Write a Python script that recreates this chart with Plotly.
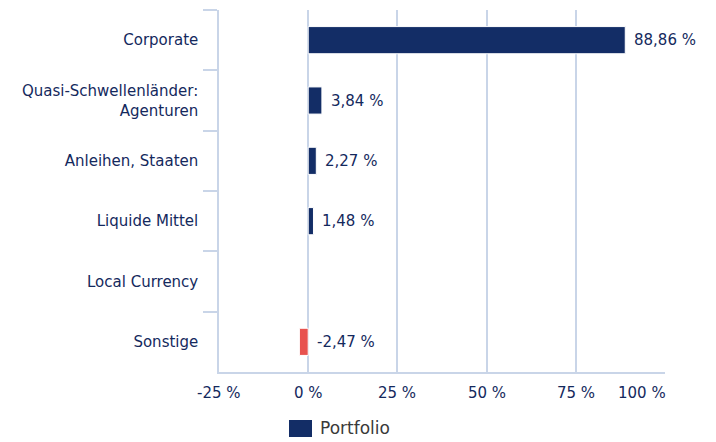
import plotly.graph_objects as go

categories = ["Corporate", "Quasi-Schwellenländer:<br>Agenturen", "Anleihen, Staaten",
              "Liquide Mittel", "Local Currency", "Sonstige"]
values = [88.86, 3.84, 2.27, 1.48, None, -2.47]
tick_values = [-25, 0, 25, 50, 75, 100]
tick_labels = ["-25 %", "0 %", "25 %", "50 %", "75 %", "100 %"]
series_name = "Portfolio"

NAVY = "#132D66"
RED = "#E8524F"
TEXT = "#14295D"
GRID = "#C9D5E8"
FONT = "DejaVu Sans"

colors = [RED if (v is not None and v < 0) else NAVY for v in values]

fig = go.Figure()
fig.add_trace(go.Bar(
    y=categories, x=values, orientation="h", width=0.45,
    marker=dict(color=colors, line=dict(color="white", width=1)),
    name=series_name, showlegend=False, hoverinfo="x+y",
))

annotations = []
for c, v in zip(categories, values):
    if v is None:
        continue
    txt = f"{v:.2f}".replace(".", ",") + " %"
    annotations.append(dict(x=max(v, 0), y=c, xref="x", yref="y", text=txt,
                            showarrow=False, xanchor="left", xshift=7,
                            font=dict(family=FONT, size=15, color=TEXT)))

for i, (tv, tl) in enumerate(zip(tick_values, tick_labels)):
    last = i == len(tick_values) - 1
    annotations.append(dict(x=tv, y=0, xref="x", yref="paper", text=tl,
                            showarrow=False,
                            xanchor="right" if last else "center",
                            yanchor="middle", yshift=-21, xshift=3 if last else 0,
                            font=dict(family=FONT, size=15, color=TEXT)))

# legend
annotations.append(dict(x=0.222, y=-0.156, xref="paper", yref="paper", text=series_name,
                        showarrow=False, xanchor="left", yanchor="middle",
                        font=dict(family=FONT, size=17, color="#3A3A3A")))

fig.update_layout(
    width=716, height=442,
    margin=dict(l=211, r=59, t=2, b=78),
    plot_bgcolor="white", paper_bgcolor="white",
    font=dict(family=FONT, size=15, color=TEXT),
    showlegend=False,
    annotations=annotations,
    shapes=[dict(type="rect", xref="paper", yref="paper",
                 x0=0.157, x1=0.2085, y0=-0.1326, y1=-0.1796,
                 fillcolor=NAVY, line=dict(width=0))],
    xaxis=dict(range=[-25, 100], tickvals=tick_values, showticklabels=False,
               showgrid=True, gridcolor=GRID, gridwidth=1.5,
               zeroline=False, showline=True, linecolor=GRID, linewidth=1.5,
               fixedrange=True),
    yaxis=dict(autorange="reversed", tickson="boundaries", ticks="outside",
               ticklen=14, tickcolor=GRID, tickwidth=1.5,
               showline=True, linecolor=GRID, linewidth=1.5,
               showgrid=False, zeroline=False,
               tickfont=dict(family=FONT, size=15, color=TEXT),
               ticklabelstandoff=16, fixedrange=True),
)

fig.write_html("out.html")
